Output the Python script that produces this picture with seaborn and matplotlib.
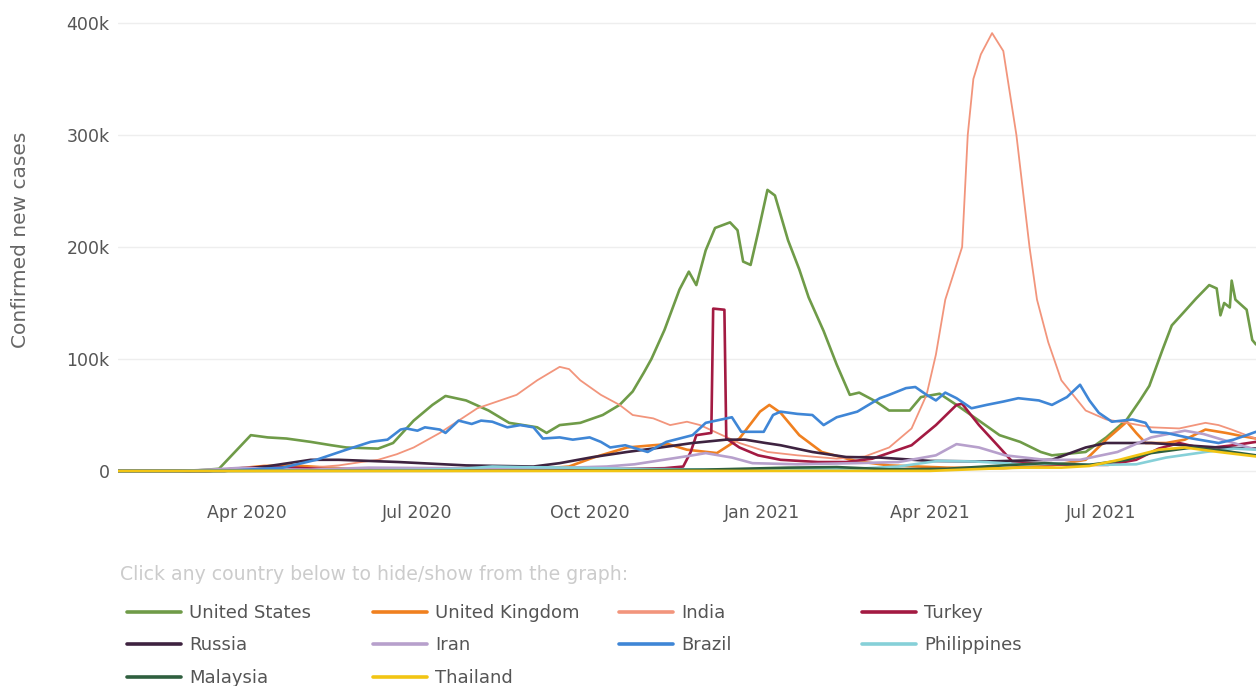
import pandas as pd
import seaborn as sns
import matplotlib.pyplot as plt
import matplotlib.dates as mdates
from matplotlib.ticker import FuncFormatter
from matplotlib.lines import Line2D

# countries in legend order (row by row) and their colours
countries = ["United States", "United Kingdom", "India", "Turkey",
             "Russia", "Iran", "Brazil", "Philippines",
             "Malaysia", "Thailand"]
colors = ["#6f9b48", "#f0801f", "#f2957c", "#a31a42",
          "#3e2340", "#b7a0cc", "#3f86d6", "#86d0d8",
          "#2f5f3f", "#f2c514"]

# daily new cases, thousands
us_dates = ["2020-01-22", "2020-03-01", "2020-03-17", "2020-04-03", "2020-04-12", "2020-04-22",
            "2020-05-05", "2020-05-16", "2020-05-24", "2020-06-10", "2020-06-18", "2020-06-29",
            "2020-07-09", "2020-07-16", "2020-07-27", "2020-08-08", "2020-08-19", "2020-09-03",
            "2020-09-08", "2020-09-15", "2020-09-26", "2020-10-08", "2020-10-17", "2020-10-24",
            "2020-10-30", "2020-11-03", "2020-11-10", "2020-11-18", "2020-11-23", "2020-11-27",
            "2020-12-02", "2020-12-07", "2020-12-15", "2020-12-19", "2020-12-22", "2020-12-26",
            "2020-12-30", "2021-01-04", "2021-01-08", "2021-01-15", "2021-01-21", "2021-01-26",
            "2021-02-03", "2021-02-10", "2021-02-17", "2021-02-22", "2021-03-03", "2021-03-10",
            "2021-03-21", "2021-03-27", "2021-04-06", "2021-04-15", "2021-04-27", "2021-05-08",
            "2021-05-19", "2021-05-30", "2021-06-05", "2021-06-23", "2021-07-04", "2021-07-15",
            "2021-07-22", "2021-07-27", "2021-08-03", "2021-08-08", "2021-08-14", "2021-08-21",
            "2021-08-28", "2021-09-01", "2021-09-03", "2021-09-05", "2021-09-08", "2021-09-09",
            "2021-09-11", "2021-09-17", "2021-09-20", "2021-09-22"]
us_k = [0, 0, 2, 32, 30, 29,
        26, 23, 21, 20, 25, 45,
        59, 67, 63, 54, 43, 39,
        34, 41, 43, 50, 59, 71,
        88, 100, 126, 162, 178, 166,
        197, 217, 222, 215, 187, 184,
        213, 251, 246, 206, 180, 155,
        125, 95, 68, 70, 62, 54,
        54, 66, 69, 59, 45, 32,
        26, 17, 14, 17, 30, 46,
        63, 76, 108, 130, 141, 154,
        166, 163, 139, 150, 146, 170,
        153, 144, 117, 113]

uk_dates = ["2020-01-22", "2020-03-10", "2020-03-25", "2020-04-10", "2020-04-25", "2020-05-10",
            "2020-05-25", "2020-06-15", "2020-07-15", "2020-08-15", "2020-09-05", "2020-09-20",
            "2020-10-03", "2020-10-21", "2020-11-04", "2020-11-12", "2020-11-22", "2020-12-08",
            "2020-12-20", "2020-12-31", "2021-01-05", "2021-01-11", "2021-01-21", "2021-02-02",
            "2021-02-20", "2021-03-10", "2021-04-10", "2021-05-10", "2021-06-05", "2021-06-23",
            "2021-07-04", "2021-07-15", "2021-07-20", "2021-07-25", "2021-08-05", "2021-08-15",
            "2021-08-26", "2021-09-06", "2021-09-15", "2021-09-22"]
uk_k = [0, 0, 2, 4.5, 5, 3.5,
        2, 1, 0.7, 1, 2, 4,
        12, 21, 23, 24, 19, 16,
        29, 53, 59, 52, 32, 17,
        9, 5, 3, 2.5, 5, 10,
        28, 44, 34, 25, 25, 28,
        37, 34, 31, 29]

india_dates = ["2020-01-22", "2020-03-20", "2020-04-15", "2020-05-05", "2020-05-20", "2020-06-01",
               "2020-06-10", "2020-06-20", "2020-06-29", "2020-07-13", "2020-08-02", "2020-08-23",
               "2020-09-03", "2020-09-10", "2020-09-15", "2020-09-20", "2020-09-26", "2020-10-07",
               "2020-10-17", "2020-10-24", "2020-11-04", "2020-11-13", "2020-11-22", "2020-11-29",
               "2020-12-20", "2021-01-04", "2021-01-20", "2021-02-10", "2021-02-25", "2021-03-10",
               "2021-03-22", "2021-03-30", "2021-04-04", "2021-04-09", "2021-04-18", "2021-04-21",
               "2021-04-24", "2021-04-28", "2021-05-04", "2021-05-10", "2021-05-14", "2021-05-17",
               "2021-05-24", "2021-05-28", "2021-06-03", "2021-06-10", "2021-06-23", "2021-07-04",
               "2021-07-15", "2021-07-28", "2021-08-12", "2021-08-26", "2021-09-02", "2021-09-09",
               "2021-09-20", "2021-09-22"]
india_k = [0, 0, 1, 3, 5, 8,
           10, 15, 21, 34, 56, 68,
           81, 88, 93, 91, 81, 68,
           59, 50, 47, 41, 44, 41,
           25, 17, 14, 11, 13, 21,
           38, 68, 104, 153, 200, 300,
           350, 372, 391, 375, 332, 300,
           200, 153, 115, 81, 54, 46,
           43, 39, 38, 43, 41, 37,
           30, 29]

turkey_dates = ["2020-01-22", "2020-03-12", "2020-03-25", "2020-04-12", "2020-04-25", "2020-05-15",
                "2020-06-15", "2020-07-15", "2020-08-15", "2020-09-15", "2020-10-15", "2020-11-10",
                "2020-11-20", "2020-11-24", "2020-11-27", "2020-12-05", "2020-12-06", "2020-12-12",
                "2020-12-13", "2020-12-20", "2020-12-30", "2021-01-11", "2021-01-31", "2021-02-15",
                "2021-03-01", "2021-03-22", "2021-04-04", "2021-04-15", "2021-04-18", "2021-04-27",
                "2021-05-08", "2021-05-15", "2021-06-01", "2021-06-20", "2021-07-05", "2021-07-20",
                "2021-08-01", "2021-08-12", "2021-08-25", "2021-09-10", "2021-09-22"]
turkey_k = [0, 0, 2, 4, 3, 1.5,
            1.2, 1, 1.2, 1.7, 1.8, 2.5,
            4, 17, 32, 34, 145, 144,
            29, 21, 14, 10, 8, 8,
            11, 23, 41, 59, 60, 41,
            21, 8, 6, 5.5, 5.5, 10,
            20, 25, 20, 23, 26]

russia_dates = ["2020-01-22", "2020-03-20", "2020-04-11", "2020-05-05", "2020-05-20", "2020-06-21",
                "2020-07-27", "2020-09-01", "2020-09-15", "2020-10-03", "2020-10-21", "2020-11-08",
                "2020-11-25", "2020-12-13", "2020-12-23", "2021-01-03", "2021-01-11", "2021-01-28",
                "2021-02-15", "2021-03-05", "2021-04-01", "2021-05-01", "2021-06-05", "2021-06-23",
                "2021-07-04", "2021-07-28", "2021-09-02", "2021-09-22"]
russia_k = [0, 0, 4, 10, 10, 8,
            5, 4, 7, 12.5, 17, 21,
            25, 28, 28, 25, 23, 17,
            12.5, 12, 9, 8.5, 10, 21,
            25, 25, 21, 20]

iran_dates = ["2020-01-22", "2020-02-25", "2020-03-15", "2020-03-30", "2020-04-15", "2020-05-05",
              "2020-06-05", "2020-07-10", "2020-08-10", "2020-09-10", "2020-10-10", "2020-10-25",
              "2020-11-25", "2020-12-02", "2020-12-16", "2020-12-27", "2021-01-20", "2021-02-20",
              "2021-03-15", "2021-04-04", "2021-04-15", "2021-04-27", "2021-05-11", "2021-06-01",
              "2021-06-20", "2021-07-10", "2021-07-28", "2021-08-15", "2021-08-25", "2021-09-10",
              "2021-09-22"]
iran_k = [0, 0, 1.5, 3, 1.5, 1.2,
          3, 2.6, 2.2, 2.5, 4, 6,
          14, 16, 12, 7, 6, 7,
          8, 14, 24, 21, 14, 10,
          10, 17, 30, 36, 33, 25,
          19]

brazil_dates = ["2020-01-22", "2020-03-10", "2020-03-25", "2020-04-20", "2020-05-08", "2020-05-24",
                "2020-06-06", "2020-06-15", "2020-06-22", "2020-06-25", "2020-07-01", "2020-07-05",
                "2020-07-13", "2020-07-16", "2020-07-23", "2020-07-30", "2020-08-04", "2020-08-10",
                "2020-08-18", "2020-08-25", "2020-09-01", "2020-09-06", "2020-09-15", "2020-09-22",
                "2020-10-01", "2020-10-07", "2020-10-12", "2020-10-20", "2020-11-01", "2020-11-11",
                "2020-11-25", "2020-12-02", "2020-12-16", "2020-12-21", "2021-01-02", "2021-01-07",
                "2021-01-11", "2021-01-20", "2021-01-28", "2021-02-03", "2021-02-10", "2021-02-21",
                "2021-03-05", "2021-03-10", "2021-03-19", "2021-03-24", "2021-03-30", "2021-04-04",
                "2021-04-09", "2021-04-15", "2021-04-23", "2021-05-01", "2021-05-10", "2021-05-18",
                "2021-05-29", "2021-06-05", "2021-06-13", "2021-06-20", "2021-06-25", "2021-06-30",
                "2021-07-07", "2021-07-18", "2021-07-25", "2021-07-28", "2021-08-05", "2021-08-19",
                "2021-09-02", "2021-09-10", "2021-09-17", "2021-09-22"]
brazil_k = [0, 0, 0.5, 3, 10, 19,
            26, 28, 37, 38, 36, 39,
            37, 34, 45, 42, 45, 44,
            39, 41, 39, 29, 30, 28,
            30, 26, 21, 23, 17, 26,
            32, 43, 48, 35, 35, 50,
            53, 51, 50, 41, 48, 53,
            65, 68, 74, 75, 68, 63,
            70, 65, 56, 59, 62, 65,
            63, 59, 66, 77, 63, 52,
            44, 46, 43, 35, 34, 29,
            25, 28, 32, 35]

philippines_dates = ["2020-01-22", "2020-03-20", "2020-04-15", "2020-06-01", "2020-07-01", "2020-07-25",
                     "2020-08-10", "2020-08-25", "2020-09-20", "2020-10-20", "2020-11-20", "2020-12-20",
                     "2021-01-20", "2021-02-20", "2021-03-15", "2021-04-05", "2021-04-25", "2021-05-20",
                     "2021-06-10", "2021-07-01", "2021-07-20", "2021-08-05", "2021-08-26", "2021-09-10",
                     "2021-09-22"]
philippines_k = [0, 0.1, 0.3, 0.5, 1, 2,
                 4, 3.5, 3, 2, 1.5, 1.3,
                 1.8, 2, 4, 9, 8.5, 6,
                 6.5, 5.5, 6, 12, 17, 20,
                 19]

malaysia_dates = ["2020-01-22", "2020-10-01", "2020-11-01", "2020-12-01", "2021-01-15", "2021-02-10",
                  "2021-03-10", "2021-04-10", "2021-05-10", "2021-06-01", "2021-06-25", "2021-07-15",
                  "2021-07-28", "2021-08-19", "2021-09-05", "2021-09-22"]
malaysia_k = [0, 0.3, 0.8, 1.2, 3, 3.5,
              1.5, 2, 5, 7, 5.5, 10,
              16, 21, 18, 14]

thailand_dates = ["2020-01-22", "2021-04-01", "2021-04-15", "2021-05-01", "2021-05-20", "2021-06-10",
                  "2021-06-25", "2021-07-11", "2021-08-01", "2021-08-15", "2021-09-02", "2021-09-22"]
thailand_k = [0, 0.1, 1, 2, 3, 3,
              4.5, 10, 19, 21, 17, 13]

series = {
    "United States": (us_dates, us_k),
    "United Kingdom": (uk_dates, uk_k),
    "India": (india_dates, india_k),
    "Turkey": (turkey_dates, turkey_k),
    "Russia": (russia_dates, russia_k),
    "Iran": (iran_dates, iran_k),
    "Brazil": (brazil_dates, brazil_k),
    "Philippines": (philippines_dates, philippines_k),
    "Malaysia": (malaysia_dates, malaysia_k),
    "Thailand": (thailand_dates, thailand_k),
}

frames = []
for name, (d, v) in series.items():
    frames.append(pd.DataFrame({"date": pd.to_datetime(d),
                                "cases": [x * 1000 for x in v],
                                "country": name}))
df = pd.concat(frames, ignore_index=True)

sns.set_theme(style="white")
plt.rcParams["font.family"] = ["DejaVu Sans"]

fig = plt.figure(figsize=(12.56, 6.86), dpi=100)
ax = fig.add_axes([0.0939, 0.3032, 0.9061, 0.6706])

palette = dict(zip(countries, colors))
for name in countries:
    sub = df[df["country"] == name]
    sns.lineplot(data=sub, x="date", y="cases", color=palette[name],
                 linewidth=1.3 if name == "India" else 1.9,
                 estimator=None, sort=False, ax=ax)

ax.set_xlim(pd.Timestamp("2020-01-23"), pd.Timestamp("2021-09-22"))
ax.set_ylim(-6250, 404500)
ax.set_yticks([0, 100000, 200000, 300000, 400000])
ax.yaxis.set_major_formatter(FuncFormatter(lambda v, p: "0" if v == 0 else f"{int(v / 1000)}k"))
ax.xaxis.set_major_locator(mdates.MonthLocator(bymonth=[1, 4, 7, 10]))
ax.xaxis.set_major_formatter(mdates.DateFormatter("%b %Y"))

ax.grid(axis="y", color="#eeeeee", linewidth=1)
ax.set_axisbelow(True)
for s in ax.spines.values():
    s.set_visible(False)
ax.tick_params(axis="x", colors="#eeeeee", labelcolor="#555555", labelsize=12.5,
               length=7, width=1, pad=12)
ax.tick_params(axis="y", length=0, labelcolor="#555555", labelsize=12.5, pad=6)

ax.set_xlabel("")
ax.set_ylabel("Confirmed new cases", fontsize=14.5, color="#666666")
ax.yaxis.set_label_coords(-0.0773, 0.517)

fig.text(120 / 1256, 1 - 575 / 686, "Click any country below to hide/show from the graph:",
         fontsize=13.6, color="#cccccc", va="center")

# legend laid out in 4 fixed-width columns
columns = [[0, 4, 8], [1, 5, 9], [2, 6], [3, 7]]
col_x = [127, 373, 619, 862]
for idx, cx in zip(columns, col_x):
    handles = [Line2D([0], [0], color=colors[i], lw=2.6) for i in idx]
    labels = [countries[i] for i in idx]
    fig.legend(handles, labels, loc="upper left", bbox_to_anchor=(cx / 1256, 1 - 604 / 686),
               frameon=False, fontsize=13, labelcolor="#555555", handlelength=3.0,
               handletextpad=0.45, labelspacing=0.80, borderpad=0, borderaxespad=0)

fig.savefig("out.png", dpi=100)
